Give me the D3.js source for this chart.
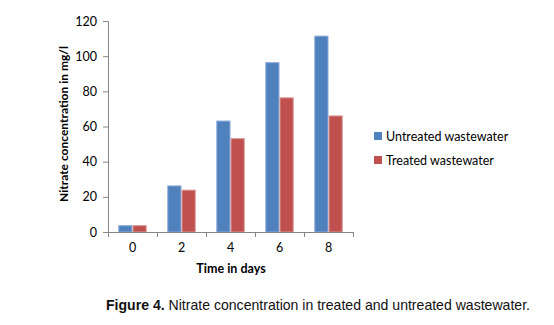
<!DOCTYPE html>
<html><head><meta charset="utf-8">
<script src="https://cdn.jsdelivr.net/npm/d3@7"></script>
<style>body{margin:0;background:#fff;} svg{display:block;}</style>
</head><body>
<script>
const categories = ["0", "2", "4", "6", "8"];
const seriesNames = ["Untreated wastewater", "Treated wastewater"];
const untreated = [3.6, 26.2, 63.1, 96.3, 111.4];
const treated = [3.6, 23.8, 53.1, 76.3, 66.0];
const yTicks = [0, 20, 40, 60, 80, 100, 120];
const colors = ["#4F81BD", "#C0504D"];

const W = 554, H = 325;
const svg = d3.select("body").append("svg").attr("width", W).attr("height", H);

const x0 = d3.scaleBand().domain(categories).range([108, 353]).padding(0);
const x1 = d3.scaleBand().domain(seriesNames).range([x0.bandwidth()*0.21, x0.bandwidth()*0.79]).padding(0);
const y = d3.scaleLinear().domain([0, 120]).range([232, 21]);

const data = categories.map((c, i) => ({c, vals: [untreated[i], treated[i]]}));

const g = svg.append("g");
g.selectAll("g.grp").data(data).enter().append("g")
  .attr("transform", d => `translate(${x0(d.c)},0)`)
  .selectAll("rect").data(d => d.vals.map((v, k) => ({v, k})))
  .enter().append("rect")
  .attr("x", d => x1(seriesNames[d.k]) + 0.5)
  .attr("width", x1.bandwidth() - 1)
  .attr("y", d => y(d.v))
  .attr("height", d => y(0) - y(d.v))
  .attr("fill", d => colors[d.k])
  .attr("stroke", d => d.k === 0 ? "#8EAADB" : "#D99694")
  .attr("stroke-width", 1);

const axisColor = "#868686";
const fontTick = "Lato, 'Open Sans', sans-serif";

const yAxis = svg.append("g").attr("transform", "translate(108,0)")
  .call(d3.axisLeft(y).tickValues(yTicks).tickSize(5).tickPadding(6));
yAxis.select(".domain").attr("stroke", axisColor);
yAxis.selectAll(".tick line").attr("stroke", axisColor);
yAxis.selectAll("text").attr("font-family", fontTick).attr("font-size", 12.5).attr("fill", "#000");

const xAxis = svg.append("g").attr("transform", "translate(0,232)")
  .call(d3.axisBottom(x0).tickSize(0).tickPadding(11));
xAxis.select(".domain").attr("stroke", axisColor).attr("d", "M108.5,0.5H353.5");
xAxis.selectAll("text").attr("font-family", fontTick).attr("font-size", 12.5).attr("fill", "#000");
const bounds = categories.map(c => x0(c)).concat([x0.range()[1]]);
svg.append("g").selectAll("line").data(bounds).enter().append("line")
  .attr("x1", d => Math.round(d) + 0.5).attr("x2", d => Math.round(d) + 0.5)
  .attr("y1", 232).attr("y2", 237).attr("stroke", axisColor);

svg.append("text").attr("x", 231).attr("y", 273).attr("text-anchor", "middle")
  .attr("font-family", fontTick).attr("font-weight", "bold").attr("font-size", 12.5)
  .text("Time in days");
svg.append("text").attr("transform", "translate(68,124) rotate(-90)").attr("text-anchor", "middle")
  .attr("font-family", fontTick).attr("font-weight", "bold").attr("font-size", 12)
  .text("Nitrate concentration in mg/l");

const leg = svg.append("g").selectAll("g").data(seriesNames).enter().append("g")
  .attr("transform", (d, i) => `translate(374,${132 + i * 24})`);
leg.append("rect").attr("width", 8).attr("height", 8).attr("fill", (d, i) => colors[i]);
leg.append("text").attr("x", 12).attr("y", 8.5).attr("font-family", fontTick).attr("font-size", 12.5).text(d => d);

const cap = svg.append("text").attr("x", 106).attr("y", 310)
  .attr("font-family", "'Liberation Sans', Arial, sans-serif").attr("font-size", 14.5).attr("fill", "#111")
  .attr("textLength", 424).attr("lengthAdjust", "spacingAndGlyphs");
cap.append("tspan").attr("font-weight", "bold").text("Figure 4.");
cap.append("tspan").text(" Nitrate concentration in treated and untreated wastewater.");
</script>
</body></html>
